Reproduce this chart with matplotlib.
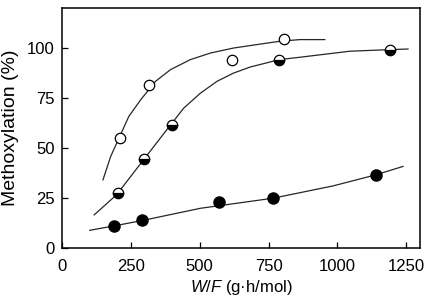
import matplotlib
matplotlib.use("Agg")
import matplotlib.pyplot as plt

# measured points (W/F in g*h/mol, methoxylation in %)
open_x = [210, 315, 618, 806]
open_y = [55, 81.5, 94, 104.5]
half_x = [202, 297, 401, 788, 1189]
half_y = [27.5, 44.5, 61.5, 94, 99]
solid_x = [189, 292, 570, 766, 1139]
solid_y = [11, 13.7, 23, 25, 36.5]

# fitted curves
open_cx = [149, 177, 207, 243, 286, 340, 394, 466, 539, 623, 707, 792, 864, 954]
open_cy = [34, 45.7, 54.8, 65.7, 74, 83.2, 89, 94, 97.3, 99.8, 101.5, 103.2, 104, 104]
half_cx = [117, 198, 298, 376, 442, 503, 563, 623, 683, 789, 864, 1045, 1189, 1256]
half_cy = [16.5, 26.5, 44.3, 58.2, 69.8, 77.3, 83.2, 87.3, 90.3, 94, 95.2, 98.2, 99, 99.3]
solid_cx = [101, 189, 292, 503, 765, 985, 1139, 1238]
solid_cy = [8.8, 11, 13.7, 19.8, 24.8, 31, 36.5, 40.7]

xticks = [0, 250, 500, 750, 1000, 1250]
yticks = [0, 25, 50, 75, 100]

plt.rcParams["font.family"] = ["Liberation Sans", "DejaVu Sans"]
plt.rcParams["mathtext.fontset"] = "custom"
plt.rcParams["mathtext.it"] = "Liberation Sans:italic"
plt.rcParams["mathtext.rm"] = "Liberation Sans"

fig = plt.figure(figsize=(4.27, 3.02), dpi=100)
ax = fig.add_axes([0.145, 0.179, 0.839, 0.796])

lw = 0.9
ax.plot(open_cx, open_cy, color="0.15", lw=lw)
ax.plot(half_cx, half_cy, color="0.15", lw=lw)
ax.plot(solid_cx, solid_cy, color="0.15", lw=lw)

ms = 7.5
ax.plot(open_x, open_y, "o", ms=ms, mfc="white", mec="black", mew=0.9, zorder=3)
ax.plot(half_x, half_y, "o", ms=ms, fillstyle="bottom", mfc="black",
        markerfacecoloralt="white", mec="black", mew=0.9, zorder=3)
ax.plot(solid_x, solid_y, "o", ms=ms + 0.5, mfc="black", mec="black", zorder=3)

ax.set_xlim(0, 1300)
ax.set_ylim(0, 120)
ax.set_xticks(xticks)
ax.set_yticks(yticks)
ax.tick_params(direction="in", length=4, width=0.9, labelsize=12)
ax.tick_params(axis="x", pad=8)
ax.tick_params(axis="y", pad=5)
for s in ax.spines.values():
    s.set_linewidth(1.1)

ax.set_xlabel(r"$\mathit{W/F}$ (g·h/mol)", fontsize=12, labelpad=3)
ax.set_ylabel("Methoxylation (%)", fontsize=14, labelpad=6)

fig.savefig("out.png", dpi=100)
